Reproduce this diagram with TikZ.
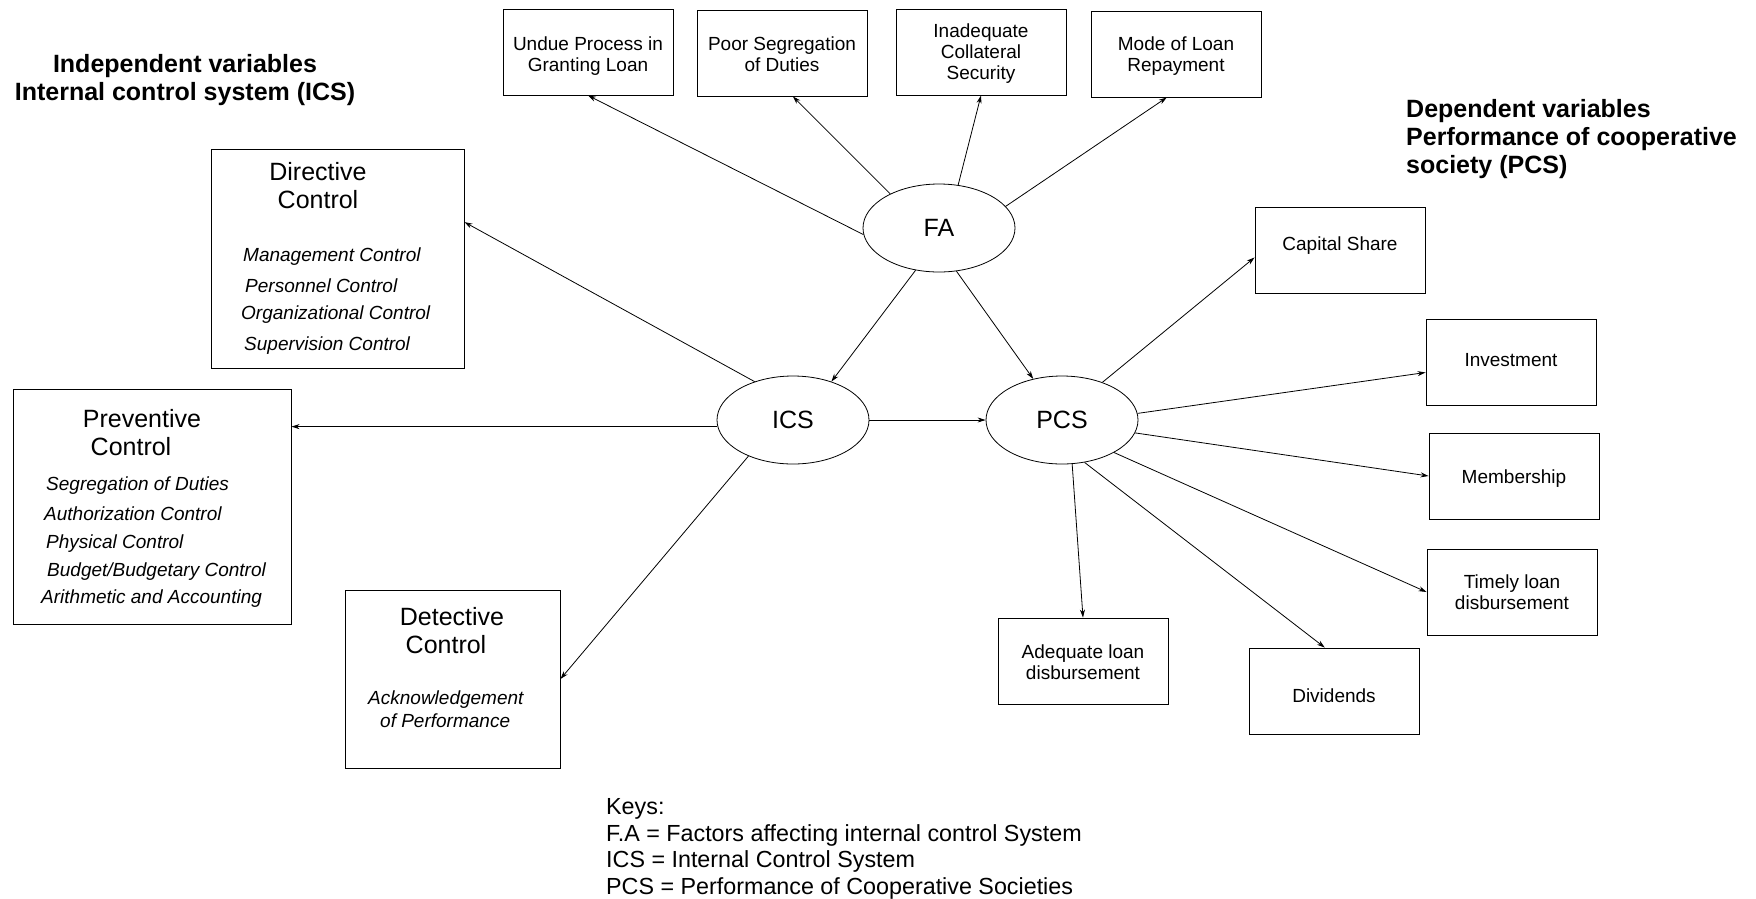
\documentclass[tikz,border=0pt]{standalone}
\usepackage{fontspec}
\setmainfont{Liberation Sans}
\usetikzlibrary{arrows.meta,shapes.geometric}

\tikzset{
  factor/.style={draw, line width=0.9pt, minimum width=170pt, minimum height=86pt,
    align=center, inner sep=2pt, font=\fontsize{19}{21}\selectfont},
  bigbox/.style={draw, line width=0.9pt, inner sep=0pt},
  var/.style={draw, ellipse, line width=0.8pt, minimum width=152pt, minimum height=88pt,
    inner sep=0pt, font=\fontsize{25}{28}\selectfont},
  head/.style={inner sep=0pt, font=\fontsize{25}{28}\selectfont},
  item/.style={anchor=west, inner sep=0pt, font=\fontsize{19}{21}\selectfont\itshape},
  title/.style={inner sep=0pt, font=\fontsize{25}{28}\selectfont\bfseries},
  link/.style={line width=0.8pt, -{Stealth[length=8pt,width=5pt]}}
}
\newcommand{\shiftlabel}[2]{\raisebox{#1}[\height][\depth]{#2}}

\begin{document}
\begin{tikzpicture}[x=1pt,y=-1pt]
\useasboundingbox (0,0) rectangle (1756,898);

% titles
\node[title, align=center] (indep) at (185,80) {Independent variables\\Internal control system (ICS)};
\node[title, align=left, anchor=west] (dep) at (1406,139) {Dependent variables\\Performance of cooperative\\society (PCS)};

% variables
\node[var] (fa) at (939,228) {FA};
\node[var] (ics) at (793,420) {ICS};
\node[var] (pcs) at (1062,420) {PCS};

% factors affecting
\node[factor] (undue) at (588,52) {\rule{0pt}{22pt}Undue Process in\\Granting Loan};
\node[factor] (poor) at (782,53) {\rule{0pt}{17pt}Poor Segregation\\of Duties};
\node[factor] (inad) at (981,52) {\rule{0pt}{17pt}Inadequate\\Collateral\\Security};
\node[factor] (mode) at (1176,54) {\rule{0pt}{17pt}Mode of Loan\\Repayment};

% performance
\node[factor] (cap) at (1340,250) {\shiftlabel{4.7pt}{Capital Share}};
\node[factor] (inv) at (1511,362) {\shiftlabel{2.2pt}{Investment}};
\node[factor] (mem) at (1514,476) {\shiftlabel{-2.2pt}{Membership}};
\node[factor] (tim) at (1512,592) {Timely loan\\disbursement};
\node[factor] (ade) at (1083,661) {\rule{0pt}{17pt}Adequate loan\\disbursement};
\node[factor] (div) at (1334,691) {\shiftlabel{-4.5pt}{Dividends}};

% internal controls
\node[bigbox, minimum width=253pt, minimum height=219pt] (dir) at (337.5,258.5) {};
\node[head] (dirA) at (318,172) {Directive};
\node[head] (dirB) at (318,200) {Control};
\node[item] (dir1) at (243,257) {Management Control};
\node[item] (dir2) at (245,286) {Personnel Control};
\node[item] (dir3) at (241,315) {Organizational Control};
\node[item] (dir4) at (244,346) {Supervision Control};

\node[bigbox, minimum width=278pt, minimum height=235pt] (prev) at (152,506.5) {};
\node[head] (prevA) at (142,419) {Preventive};
\node[head] (prevB) at (131,447) {Control};
\node[item] (prev1) at (46,486) {Segregation of Duties};
\node[item] (prev2) at (44,514) {Authorization Control};
\node[item] (prev3) at (46,544) {Physical Control};
\node[item] (prev4) at (47,572) {Budget/Budgetary Control};
\node[item] (prev5) at (41,599) {Arithmetic and Accounting};

\node[bigbox, minimum width=215pt, minimum height=178pt] (det) at (452.5,679) {};
\node[head] (detA) at (452,617) {Detective};
\node[head] (detB) at (446,645) {Control};
\node[item] (det1) at (368,700) {Acknowledgement};
\node[item] (det2) at (380,721) {of Performance};

% keys
\node[inner sep=0pt, anchor=west, align=left, font=\fontsize{23.3}{26.5}\selectfont] (keys) at (606,849)
  {Keys:\\F.A = Factors affecting internal control System\\ICS = Internal Control System\\PCS = Performance of Cooperative Societies};

% links
\draw[link] (fa.185) -- (undue.south);
\draw[link] (fa.145) -- (poor.284);
\draw[link] (fa.66) -- (inad.south);
\draw[link] (fa.18) -- (mode.258);
\draw[link] (fa.241) -- (ics.45);
\draw[link] (fa.292) -- (pcs.125);

\draw[link] (ics.135) -- (dir.16);
\draw[link] (ics.185) -- (ics.185 -| prev.east);
\draw[link] (ics.219) -- (det.east);
\draw[link] (ics.east) -- (pcs.west);

\draw[link] (pcs.43) -- (cap.185);
\draw[link] (pcs.5) -- (inv.187);
\draw[link] (pcs.350) -- (mem.west);
\draw[link] (pcs.328) -- (tim.west);
\draw[link] (pcs.298) -- (div.102);
\draw[link] (pcs.283) -- (ade.north);
\end{tikzpicture}
\end{document}
